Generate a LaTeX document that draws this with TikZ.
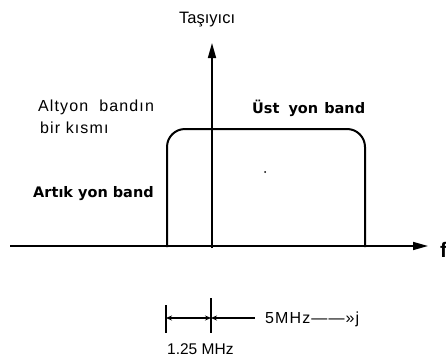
\documentclass[tikz,border=0pt]{standalone}
\usepackage{fontspec}
\setmainfont{Liberation Sans}
\newfontfamily\spaced[LetterSpace=7]{Liberation Sans}
\newfontfamily\chunky{DejaVu Sans}
\usetikzlibrary{arrows.meta}
\begin{document}
\begin{tikzpicture}[x=1pt,y=-1pt,
  axis/.style={line width=1.5pt,-{Triangle[length=15pt,width=8pt]}},
  band/.style={line width=2pt,rounded corners=18pt},
  lbl/.style={font=\fontsize{16}{18}\selectfont\spaced,inner sep=0pt,anchor=base west},
  boldlbl/.style={font=\fontsize{14.5}{16}\selectfont\chunky\bfseries,inner sep=0pt,anchor=base west},
  dim/.style={line width=1.3pt}]
\useasboundingbox (0,0) rectangle (446,356);
% axes
\coordinate (o) at (10,246);
\coordinate (fx) at (428,246);
\coordinate (c0) at (212,248);
\coordinate (ct) at (212,43);
\draw[axis] (o) -- (fx);
\draw[axis] (c0) -- (ct);
\node[inner sep=0pt,anchor=base west,font=\fontsize{21}{24}\selectfont\bfseries] (f) at (440,257) {f};
\node[lbl,font=\fontsize{16.5}{18}\selectfont] (tasiyici) at (179,23) {Taşıyıcı};
% band shape
\draw[band] (167,247) -- (167,129) -- (365,129) -- (365,247);
\fill (265,172) circle (1pt);
% labels
\node[lbl] (alt1) at (38,111) {Altyon\ \ bandın};
\node[lbl] (alt2) at (40,133) {bir kısmı};
\node[boldlbl] (ust) at (252,113) {Üst\hspace{9pt}yon\hspace{6pt}band};
\node[boldlbl] (artik) at (33,197) {Artık\hspace{5pt}yon\hspace{5pt}band};
% dimensions
\coordinate (d0) at (166,318);
\coordinate (d1) at (211,318);
\coordinate (d2) at (255,318);
\draw[dim] (166,305) -- (166,333);
\draw[dim] (211,298) -- (211,333);
\draw[dim,{Stealth[length=6pt,width=5pt]}-{Stealth[length=6pt,width=5pt]}] (d0) -- (d1);
\draw[dim,{Stealth[length=6pt,width=5pt]}-] (d1) -- (d2);
\node[lbl] (five) at (265,323) {5MHz——»j};
\node[lbl,font=\fontsize{15.5}{18}\selectfont] (one) at (167,354) {1.25 MHz};
\end{tikzpicture}
\end{document}
